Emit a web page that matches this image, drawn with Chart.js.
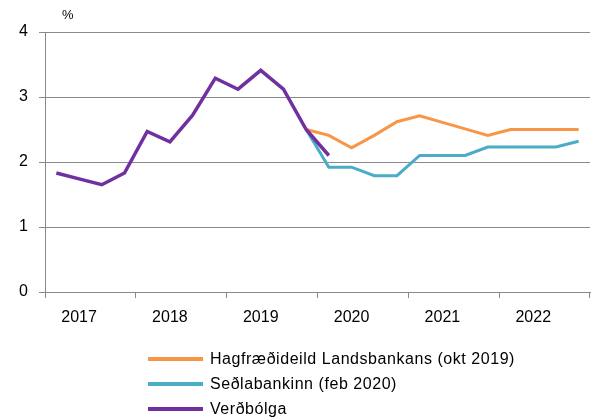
<!DOCTYPE html>
<html>
<head>
<meta charset="utf-8">
<script src="https://cdn.jsdelivr.net/npm/chart.js@4"></script>
<style>
  html, body { margin: 0; padding: 0; background: #fff; }
  #wrap { position: relative; width: 592px; height: 418px; }
  canvas { position: absolute; left: 0; top: 0; }
  #legend { position: absolute; left: 148px; top: 346px; font-family: "Liberation Sans", Arial, sans-serif; font-size: 16px; letter-spacing: 0.55px; color: #000; }
  .row { height: 25px; display: flex; align-items: center; }
  .sw { width: 55px; height: 4px; margin-right: 7px; }
  #pct { position: absolute; left: 62px; top: 7px; font-family: "Liberation Sans", Arial, sans-serif; font-size: 13px; color: #000; }
</style>
</head>
<body>
<div id="wrap">
  <canvas id="c" width="592" height="418"></canvas>
  <div id="pct">%</div>
  <div id="legend"></div>
</div>
<script>
// Quarterly categories 2017Q1 .. 2022Q4
const categories = [
  "2017Q1","2017Q2","2017Q3","2017Q4",
  "2018Q1","2018Q2","2018Q3","2018Q4",
  "2019Q1","2019Q2","2019Q3","2019Q4",
  "2020Q1","2020Q2","2020Q3","2020Q4",
  "2021Q1","2021Q2","2021Q3","2021Q4",
  "2022Q1","2022Q2","2022Q3","2022Q4"
];
const seriesNames = ["Hagfræðideild Landsbankans (okt 2019)", "Seðlabankinn (feb 2020)", "Verðbólga"];
const seriesColors = ["#F79646", "#4BACC6", "#7030A0"];
const landsbankinn = [null,null,null,null,null,null,null,null,null,null,null,
  2.50, 2.41, 2.22, 2.41, 2.62, 2.71, 2.61, 2.51, 2.41, 2.50, 2.50, 2.50, 2.50];
const sedlabankinn = [null,null,null,null,null,null,null,null,null,null,null,
  2.50, 1.92, 1.92, 1.79, 1.79, 2.10, 2.10, 2.10, 2.23, 2.23, 2.23, 2.23, 2.32];
const verdbolga = [1.83, 1.74, 1.65, 1.83, 2.47, 2.31, 2.72, 3.29, 3.12, 3.41, 3.12, 2.50, 2.10,
  null,null,null,null,null,null,null,null,null,null,null];
const yTicks = [0, 1, 2, 3, 4];

const series = [landsbankinn, sedlabankinn, verdbolga];
const GRID = "#898989";
const FONT = "'Liberation Sans', Arial, sans-serif";

const datasets = series.map((d, i) => ({
  label: seriesNames[i],
  data: d,
  borderColor: seriesColors[i],
  backgroundColor: seriesColors[i],
  borderWidth: i === 2 ? 3.5 : 3,
  pointRadius: 0,
  tension: 0,
  spanGaps: false,
  order: i === 2 ? 0 : 1
}));

new Chart(document.getElementById("c"), {
  type: "line",
  data: { labels: categories, datasets },
  options: {
    responsive: false,
    animation: false,
    layout: { padding: { left: 0, right: 2, top: 32, bottom: 86 } },
    plugins: { legend: { display: false }, tooltip: { enabled: false } },
    scales: {
      x: {
        type: "category",
        offset: true,
        afterFit: s => { s.height = 40; },
        border: { color: GRID, width: 1 },
        grid: {
          offset: true,
          drawOnChartArea: false,
          drawTicks: true,
          tickLength: 6,
          color: ctx => (ctx.index === undefined || ctx.index % 4 === 0) ? GRID : "rgba(0,0,0,0)"
        },
        ticks: {
          autoSkip: false,
          maxRotation: 0,
          padding: 10,
          color: "#000",
          font: { family: FONT, size: 16 },
          callback: (v, i) => (i % 4 === 1) ? categories[i].slice(0, 4) : ""
        }
      },
      y: {
        min: 0, max: 4,
        afterFit: s => { s.width = 45; },
        afterBuildTicks: s => { s.ticks = yTicks.map(v => ({ value: v })); },
        border: { color: GRID, width: 1 },
        grid: { color: GRID, lineWidth: 1, tickLength: 6 },
        ticks: {
          padding: 11,
          color: "#000",
          font: { family: FONT, size: 16 }
        }
      }
    }
  }
});

const leg = document.getElementById("legend");
seriesNames.forEach((n, i) => {
  const r = document.createElement("div");
  r.className = "row";
  const sw = document.createElement("div");
  sw.className = "sw";
  sw.style.background = seriesColors[i];
  const t = document.createElement("span");
  t.textContent = n;
  r.appendChild(sw); r.appendChild(t);
  leg.appendChild(r);
});
</script>
</body>
</html>
